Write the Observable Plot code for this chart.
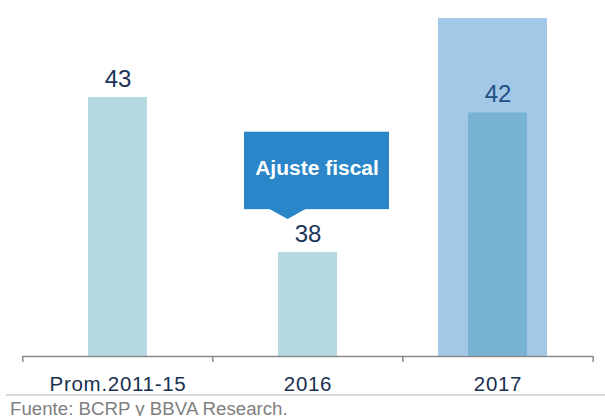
<!DOCTYPE html>
<html>
<head>
<meta charset="utf-8">
<script src="https://cdn.jsdelivr.net/npm/d3@7"></script>
<script src="https://cdn.jsdelivr.net/npm/@observablehq/plot@0.6"></script>
<style>
  html, body { margin: 0; padding: 0; background: #fff; }
  #chart { width: 605px; }
  #chart svg { display: block; }
  g[aria-label="x-axis tick label"] text { letter-spacing: 0.7px; }
  .caption {
    margin-left: 6px;
    border-top: 2px solid #d9d9d9;
    padding: 3px 0 0 4px;
    font-family: "Liberation Sans", Arial, sans-serif;
    font-size: 18.7px;
    line-height: 20px;
    color: #7f7f7f;
    white-space: nowrap;
  }
</style>
</head>
<body>
<div id="chart"></div>
<div class="caption">Fuente: BCRP y BBVA Research.</div>
<script>
// ---- data ----
const categories = ["Prom.2011-15", "2016", "2017"];
const values = [43, 38, 42.5];
const valueLabels = ["43", "38", "42"];
const highlightCategory = ["2017"];
const calloutCategory = ["2016"];
const calloutText = ["Ajuste fiscal"];

// ---- scale choices ----
const yBase = 34.64;
const yTop = 45.55;
const calloutLo = 39.38;
const calloutHi = 41.88;

const data = categories.map((c, i) => ({category: c, value: values[i], label: valueLabels[i]}));
const callout = calloutCategory.map((c, i) => ({category: c, text: calloutText[i]}));

const barFill = d => d.category === "2017" ? "#78b3d6" : "#b4d9e1";
const labelFill = d => d.category === "2017" ? "#1f4f82" : "#1b3459";

const downArrow = {
  draw(context, size) {
    const r = Math.sqrt(size / Math.PI);
    context.moveTo(-r, -1);
    context.lineTo(r, -1);
    context.lineTo(0, r * 0.5);
    context.closePath();
  }
};

const step = 571 / 3;

const plot = Plot.plot({
  width: 605,
  height: 394,
  marginTop: 18,
  marginBottom: 38,
  marginLeft: 22,
  marginRight: 12,
  style: {fontFamily: "'Liberation Sans', Arial, sans-serif", background: "#fff"},
  x: {domain: categories, paddingInner: 0.69, paddingOuter: 0.345, axis: null, label: null},
  y: {domain: [yBase, yTop], axis: null, label: null},
  color: {type: "identity"},
  marks: [
    Plot.barY(highlightCategory, {x: d => d, y1: yBase, y2: yTop, fill: "#a3c8e7", insetLeft: -30, insetRight: -20}),
    Plot.barY(data, {x: "category", y1: yBase, y2: "value", fill: barFill}),
    Plot.text(data, {x: "category", y: "value", text: "label", dy: -10.5, lineAnchor: "bottom", fontSize: 24, fill: labelFill}),
    Plot.barY(callout, {x: "category", y1: calloutLo, y2: calloutHi, fill: "#2a86c8", insetLeft: -34, insetRight: -52}),
    Plot.dot(callout, {x: "category", y: calloutLo, dx: -20.5, r: 18.5, symbol: downArrow, fill: "#2a86c8", stroke: "none"}),
    Plot.text(callout, {x: "category", y: (calloutLo + calloutHi) / 2, dx: 9, dy: -3, text: "text", fill: "#ffffff", fontWeight: "bold", fontSize: 21}),
    Plot.ruleY([yBase], {stroke: "#8a8a8a", strokeWidth: 1.5}),
    Plot.axisX({tickSize: 0, tickPadding: 20, fontSize: 20.5, color: "#17304f", label: null}),
    Plot.axisX({text: null, tickSize: 6, dx: -step / 2, stroke: "#8a8a8a", strokeWidth: 1.5, label: null}),
    Plot.axisX(["2017"], {text: null, tickSize: 6, dx: step / 2, stroke: "#8a8a8a", strokeWidth: 1.5, label: null})
  ]
});
document.getElementById("chart").appendChild(plot);
</script>
</body>
</html>
